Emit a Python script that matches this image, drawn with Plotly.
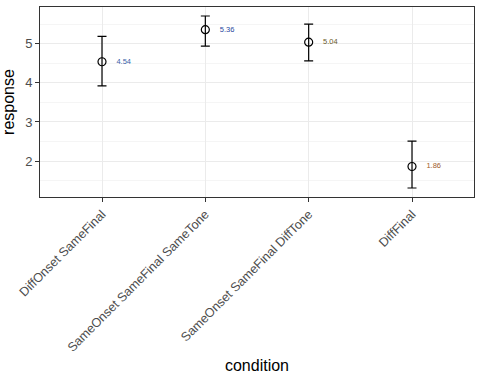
import plotly.graph_objects as go

conditions = ["DiffOnset SameFinal", "SameOnset SameFinal SameTone",
              "SameOnset SameFinal DiffTone", "DiffFinal"]
means = [4.54, 5.36, 5.04, 1.86]
upper = [5.19, 5.71, 5.50, 2.51]
lower = [3.92, 4.94, 4.56, 1.31]
labels = ["4.54", "5.36", "5.04", "1.86"]
label_colors = ["#3A5FA8", "#2848A0", "#6B5A2A", "#A0602A"]

xs = list(range(len(conditions)))
err_plus = [u - m for u, m in zip(upper, means)]
err_minus = [m - l for m, l in zip(means, lower)]

fig = go.Figure()
fig.add_trace(go.Scatter(
    x=xs, y=means, mode="markers",
    marker=dict(symbol="circle-open", size=8, color="black", line=dict(width=1.2, color="black")),
    error_y=dict(type="data", symmetric=False, array=err_plus, arrayminus=err_minus,
                 color="black", thickness=1.2, width=4.5),
    showlegend=False, hoverinfo="skip"))
fig.add_trace(go.Scatter(
    x=[x + 0.21 for x in xs], y=means, mode="text", text=labels,
    textfont=dict(size=7.5, color=label_colors, family="Liberation Sans, Arial"),
    textposition="middle center", showlegend=False, hoverinfo="skip"))

fig.update_layout(
    width=480, height=384,
    margin=dict(l=40, r=6, t=7, b=187),
    paper_bgcolor="white", plot_bgcolor="white",
    font=dict(family="Liberation Sans, Arial", color="#4D4D4D"),
)
fig.update_xaxes(
    range=[-0.6, 3.6], tickvals=xs, ticktext=conditions, tickangle=-45,
    tickfont=dict(size=12.6, color="#4D4D4D"), automargin=False,
    showgrid=True, gridcolor="#EBEBEB", gridwidth=1,
    showline=True, linecolor="#333333", linewidth=1, mirror=True,
    ticks="outside", ticklen=4, tickcolor="#333333", zeroline=False,
    title=dict(text="condition", font=dict(size=16, color="black"), standoff=6),
)
fig.update_yaxes(
    range=[1.08, 5.94], tickvals=[2, 3, 4, 5],
    tickfont=dict(size=13, color="#4D4D4D"), automargin=False,
    showgrid=True, gridcolor="#EBEBEB", gridwidth=1,
    minor=dict(tickvals=[1.5, 2.5, 3.5, 4.5, 5.5], showgrid=True, gridcolor="#F5F5F5", gridwidth=0.6),
    showline=True, linecolor="#333333", linewidth=1, mirror=True,
    ticks="outside", ticklen=4, tickcolor="#333333", zeroline=False,
    title=dict(text="response", font=dict(size=16, color="black"), standoff=6),
)

fig.write_html("out.html", config={"displayModeBar": False},
               post_script="document.body.style.margin='0';")
